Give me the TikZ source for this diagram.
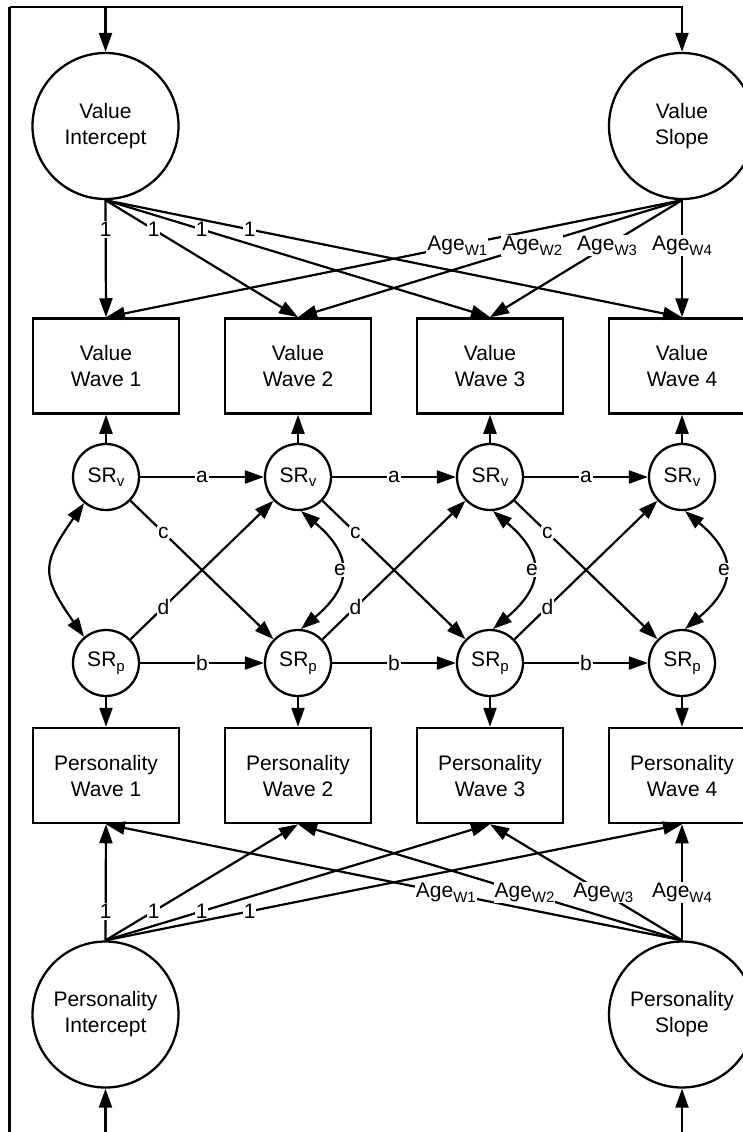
\documentclass[tikz,border=0pt]{standalone}
\usepackage{fontspec}
\setmainfont{Liberation Sans}
\usetikzlibrary{arrows.meta}
\newcommand\sbs[1]{\raisebox{-4.5pt}{\fontsize{15}{15}\selectfont #1}}
\begin{document}
\begin{tikzpicture}[x=1pt,y=-1pt,
  font=\fontsize{21}{26}\selectfont,
  latent/.style={circle,draw,line width=2.3pt,minimum size=146pt,inner sep=0pt,align=center},
  small/.style={circle,draw,line width=2.3pt,minimum size=66pt,inner sep=0pt},
  obs/.style={rectangle,draw,line width=2.5pt,minimum width=146pt,minimum height=95pt,inner sep=0pt,align=center},
  arr/.style={-{Triangle[length=19pt,width=13pt]},line width=2.2pt},
  darr/.style={{Triangle[length=19pt,width=13pt]}-{Triangle[length=19pt,width=13pt]},line width=2.2pt},
  lbl/.style={fill=white,inner sep=1pt}]
\useasboundingbox (0,0) rectangle (743,1132);
\clip (0,0) rectangle (743,1132);

% latent growth factors
\node[latent] (VI) at (105.5,126) {Value\\Intercept};
\node[latent] (VS) at (682,126) {Value\\Slope};
\node[latent] (PI) at (105.5,1014.5) {Personality\\Intercept};
\node[latent] (PS) at (682,1014.5) {Personality\\Slope};

% observed boxes and residual circles
\foreach \i/\x in {1/106,2/298,3/490,4/682}{
  \node[obs] (VW\i) at (\x,366) {Value\\Wave \i};
  \node[obs] (PW\i) at (\x,775.5) {Personality\\Wave \i};
  \node[small] (SRv\i) at (\x,477) {SR\sbs{v}};
  \node[small] (SRp\i) at (\x,663) {SR\sbs{p}};
  \draw[arr] (SRv\i) -- (VW\i);
  \draw[arr] (SRp\i) -- (PW\i);
}

% border connectors
\coordinate (topL) at (9.5,7);
\coordinate (botL) at (9.5,1140);
\coordinate (botI) at (105.5,1140);
\coordinate (botS) at (682,1140);
\draw[line width=2.2pt] (botL) -- (topL);
\draw[arr] (topL) -| (VI);
\draw[arr] (topL) -| (VS);
\draw[arr] (botI) -- (PI);
\draw[arr] (botS) -- (PS);

% value loadings
\foreach \i in {1,2,3,4}{
  \draw[arr] (VI.south) -- node[lbl,pos=0.25] {1} (VW\i.north);
}
\foreach \i in {1,2,3,4}{
  \draw[arr] (VS.south) -- node[lbl,pos=0.39] {Age\sbs{W\i}} (VW\i.north);
}
% personality loadings
\foreach \i in {1,2,3,4}{
  \draw[arr] (PI.north) -- node[lbl,pos=0.25] {1} (PW\i.south);
}
\foreach \i in {1,2,3,4}{
  \draw[arr] (PS.north) -- node[lbl,pos=0.41] {Age\sbs{W\i}} (PW\i.south);
}

% cross-lagged structure
\foreach \i/\j in {1/2,2/3,3/4}{
  \draw[arr] (SRv\i) -- node[lbl] {a} (SRv\j);
  \draw[arr] (SRp\i) -- node[lbl] {b} (SRp\j);
  \draw[arr] (SRv\i) -- node[lbl,pos=0.23] {c} (SRp\j);
  \draw[arr] (SRp\i) -- node[lbl,pos=0.23] {d} (SRv\j);
  \draw[darr] (SRv\j.-85) .. controls +(40:68) and +(-40:68) .. node[lbl] {e} (SRp\j.85);
}
\draw[darr] (SRv1.-130) .. controls +(125:75) and +(-125:75) .. (SRp1.130);
\end{tikzpicture}
\end{document}
